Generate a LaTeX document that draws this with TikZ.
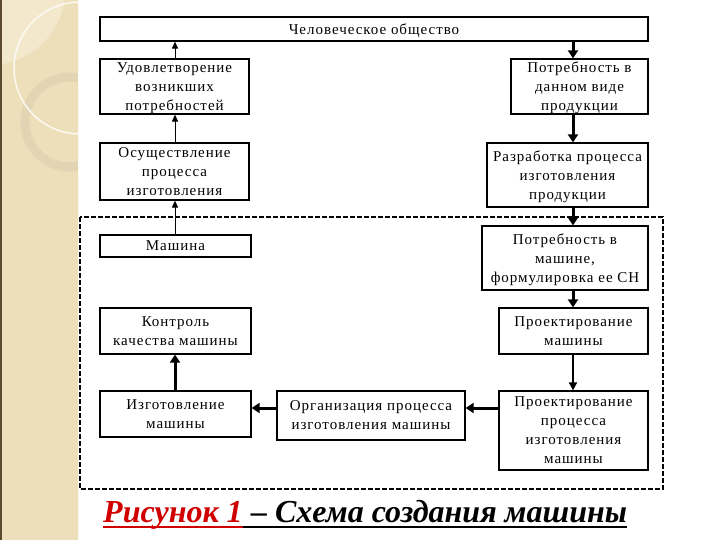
\documentclass[tikz,border=0pt]{standalone}
\usepackage{fontspec}
\setmainfont{Liberation Serif}
\usetikzlibrary{arrows.meta}
\definecolor{strip}{HTML}{EEDFBB}
\definecolor{striplight}{HTML}{F3E8CC}
\definecolor{ringcol}{HTML}{E2D5B3}
\definecolor{edgebrown}{HTML}{5C4A2E}
\definecolor{capred}{HTML}{D00000}
\begin{document}
\begin{tikzpicture}[x=1pt,y=-1pt,
  box/.style={draw=black, line width=1.2pt, fill=white, align=center, inner sep=0pt,
    text depth=0pt, font=\fontsize{15}{19}\selectfont\addfontfeature{LetterSpace=6.5}},
  thinarr/.style={line width=1pt, -{Triangle[length=7pt,width=6pt]}},
  thickarr/.style={line width=3pt, -{Triangle[length=8pt,width=10pt]}},
  midarr/.style={line width=1.6pt, -{Triangle[length=8pt,width=8pt]}},
  frame/.style={line width=2.6pt, dash pattern=on 5pt off 2pt},
  captxt/.style={anchor=base west, inner sep=0pt, font=\fontsize{32}{34}\selectfont\bfseries\itshape}]
\useasboundingbox (0,0) rectangle (720,540);
\fill[white] (0,0) rectangle (720,540);
% decorative strip
\fill[strip] (0,0) rectangle (78,540);
\begin{scope}
  \clip (0,0) rectangle (78,540);
  \fill[striplight] (-10,-10) circle (75);
  \draw[ringcol, line width=9pt] (70,122) circle (45);
  \draw[white, opacity=0.8, line width=1.5pt] (80,68) circle (66);
\end{scope}
\draw[edgebrown, line width=2pt] (1,0) -- (1,540);
\draw[white!85!strip, line width=0.8pt] (78,0) -- (78,540);

% dashed frame
\draw[frame] (80,217) rectangle (663,489);

% boxes
\node[box, minimum width=548, minimum height=24] (hum) at (374,29) {Человеческое общество};
\node[box, minimum width=149, minimum height=55] (udov) at (174.5,86.5) {Удовлетворение\\возникших\\потребностей};
\node[box, minimum width=149, minimum height=57] (osush) at (174.5,171.5) {Осуществление\\процесса\\изготовления};
\node[box, minimum width=151, minimum height=22] (mash) at (175.5,246) {Машина};
\node[box, minimum width=151, minimum height=46] (kontr) at (175.5,331) {Контроль\\качества машины};
\node[box, minimum width=151, minimum height=46] (izgot) at (175.5,414) {Изготовление\\машины};
\node[box, minimum width=188, minimum height=49] (org) at (371,415.5) {Организация процесса\\изготовления машины};
\node[box, minimum width=149, minimum height=79] (proc) at (573.5,430.5) {Проектирование\\процесса\\изготовления\\машины};
\node[box, minimum width=149, minimum height=46] (projm) at (573.5,331) {Проектирование\\машины};
\node[box, minimum width=166, minimum height=64] (potrm) at (565,258) {Потребность в\\машине,\\формулировка ее СН};
\node[box, minimum width=161, minimum height=64] (razr) at (567.5,175) {Разработка процесса\\изготовления\\продукции};
\node[box, minimum width=137, minimum height=55] (potr) at (579.5,86.5) {Потребность в\\данном виде\\продукции};

\coordinate (lc) at (175,0);
\coordinate (rc) at (573,0);
\coordinate (hy) at (0,408);

% left column (upwards)
\draw[thinarr] (udov.north -| lc) -- (hum.south -| lc);
\draw[thinarr] (osush.north -| lc) -- (udov.south -| lc);
\draw[thinarr] (mash.north -| lc) -- (osush.south -| lc);
\draw[thickarr] (izgot.north -| lc) -- (kontr.south -| lc);

% right column (downwards)
\draw[thickarr] (hum.south -| rc) -- (potr.north -| rc);
\draw[thickarr] (potr.south -| rc) -- (razr.north -| rc);
\draw[thickarr] (razr.south -| rc) -- (potrm.north -| rc);
\draw[thickarr] (potrm.south -| rc) -- (projm.north -| rc);
\draw[midarr] (projm.south -| rc) -- (proc.north -| rc);

% bottom row (leftwards)
\draw[thickarr] (proc.west |- hy) -- (org.east |- hy);
\draw[thickarr] (org.west |- hy) -- (izgot.east |- hy);

% caption
\node[captxt, text=capred] (c1) at (103,522) {Рисунок 1};
\node[captxt, text=black] (c2) at (c1.base east) {\ – Схема создания машины};
\draw[capred, line width=1.8pt] ([yshift=-5pt]c1.base west) -- ([yshift=-5pt]c1.base east);
\draw[black, line width=1.8pt] ([yshift=-5pt]c2.base west) -- ([yshift=-5pt]c2.base east);
\end{tikzpicture}
\end{document}
